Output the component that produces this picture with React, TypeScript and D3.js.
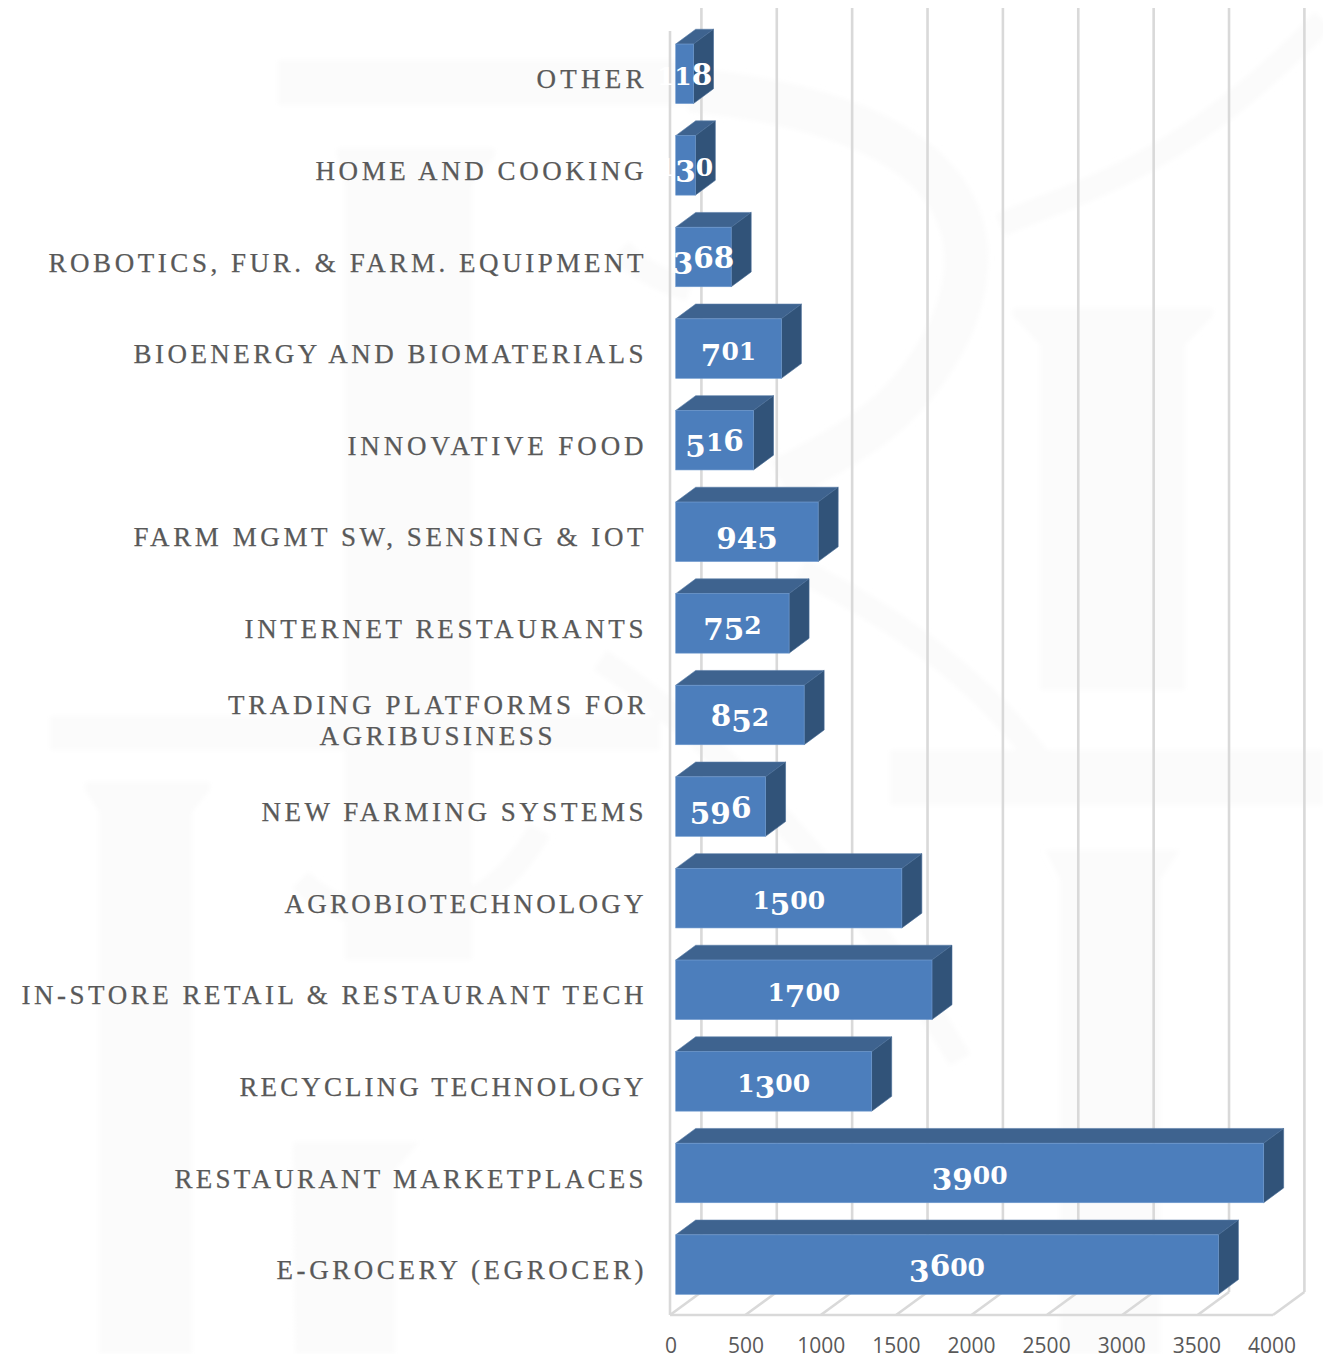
import React from "react";
import * as d3 from "d3";

const WIDTH = 1323;
const HEIGHT = 1354;

// Categories from the top of the chart downwards.
const categories = [
  "OTHER",
  "HOME AND COOKING",
  "ROBOTICS, FUR. & FARM. EQUIPMENT",
  "BIOENERGY AND BIOMATERIALS",
  "INNOVATIVE FOOD",
  "FARM MGMT SW, SENSING & IOT",
  "INTERNET RESTAURANTS",
  "TRADING PLATFORMS FOR AGRIBUSINESS",
  "NEW FARMING SYSTEMS",
  "AGROBIOTECHNOLOGY",
  "IN-STORE RETAIL & RESTAURANT TECH",
  "RECYCLING TECHNOLOGY",
  "RESTAURANT MARKETPLACES",
  "E-GROCERY (EGROCER)",
];
const values = [118, 130, 368, 701, 516, 945, 752, 852, 596, 1500, 1700, 1300, 3900, 3600];
const axisTicks = [0, 500, 1000, 1500, 2000, 2500, 3000, 3500, 4000];
const wrappedLabels: Record<string, string[]> = {
  "TRADING PLATFORMS FOR AGRIBUSINESS": ["TRADING PLATFORMS FOR", "AGRIBUSINESS"],
};
// Set width of each label line, so the wide tracking stays even across the column.
const labelSpans: Record<string, number> = {
  OTHER: 107,
  "HOME AND COOKING": 328,
  "ROBOTICS, FUR. & FARM. EQUIPMENT": 595,
  "BIOENERGY AND BIOMATERIALS": 510,
  "INNOVATIVE FOOD": 296,
  "FARM MGMT SW, SENSING & IOT": 510,
  "INTERNET RESTAURANTS": 399,
  "TRADING PLATFORMS FOR": 417,
  AGRIBUSINESS: 233,
  "NEW FARMING SYSTEMS": 382,
  AGROBIOTECHNOLOGY: 359,
  "IN-STORE RETAIL & RESTAURANT TECH": 622,
  "RECYCLING TECHNOLOGY": 404,
  "RESTAURANT MARKETPLACES": 469,
  "E-GROCERY (EGROCER)": 367,
};

// Faint backdrop emblem: columns and sweeping ribbons.
const emblemColumns = [
  "M85 782H210V790L192 812V1354H99V812L85 790Z",
  "M337 148H495V156L472 185V960H345V185L337 156Z",
  "M1013 308H1213V316L1185 345V690H1040V345L1013 316Z",
  "M1045 850H1180L1160 880V1354H1060V880Z",
  "M293 1142H420L395 1170V1354H295Z",
  "M278 60H700V105H278Z",
  "M50 716H660V750H50Z",
  "M890 750H1323V805H890Z",
];
const emblemRibbons = [
  "M690 90C900 110 1010 190 950 330C910 410 860 440 780 480",
  "M1000 225C1080 190 1180 170 1323 20",
  "M800 570C900 620 980 680 1040 760",
  "M620 250C640 270 660 280 690 290",
  "M600 660C720 740 860 890 960 1060",
  "M540 830C470 950 350 930 300 880",
];

const FRONT_LEFT = 675.7;
const UNIT_SPAN = 603;
const BAR_DEPTH_X = 20;
const BAR_DEPTH_Y = 14.8;
const FLOOR_LEFT = 670;
const FLOOR_FRONT = 1315;
const FLOOR_BACK = 1292;
const WALL_TOP = 8;
const WALL_DEPTH_X = 31.4;

const TEXT_SERIF = "'Liberation Serif', serif";
const VALUE_SERIF = "'DejaVu Serif', serif";

// Old-style figures: short digits sit on the baseline, some rise, some descend.
const DESCENDING = "34579";
const TALL = "68";

function OldStyleNumber({ x, y, value }: { x: number; y: number; value: number }) {
  const digits = String(value).split("");
  let previous = 0;
  return (
    <text x={x} y={y} textAnchor="middle" fill="#ffffff" fontFamily={VALUE_SERIF} fontWeight={700}>
      {digits.map((d, i) => {
        const shift = DESCENDING.includes(d) ? 6 : 0;
        const size = DESCENDING.includes(d) || TALL.includes(d) ? 29.5 : 25;
        const dy = shift - previous;
        previous = shift;
        return (
          <tspan key={i} dy={dy} fontSize={size}>
            {d}
          </tspan>
        );
      })}
    </text>
  );
}

export default function App() {
  const x = d3.scaleLinear().domain([0, 4000]).range([FRONT_LEFT, FRONT_LEFT + UNIT_SPAN]);
  const floorX = d3.scaleLinear().domain([0, 4000]).range([FLOOR_LEFT, FLOOR_LEFT + UNIT_SPAN]);
  const tickLabelX = d3.scaleLinear().domain([0, 4000]).range([671, 1272]);
  const y = d3
    .scaleBand<string>()
    .domain(categories)
    .range([28, 28 + 91.6 * 14])
    .paddingInner(0.3504)
    .paddingOuter(0.1752);
  const bandH = y.bandwidth();
  const cornerPath = d3.line();

  const labelStyle = {
    fontFamily: TEXT_SERIF,
    fontSize: 27,
    fill: "#595959",
    stroke: "#595959",
    strokeWidth: 0.25,
    lengthAdjust: "spacing" as const,
  };

  return (
    <svg
      width={WIDTH}
      height={HEIGHT}
      viewBox={`0 0 ${WIDTH} ${HEIGHT}`}
      style={{ position: "absolute", left: 0, top: 0, display: "block", background: "#ffffff" }}
    >
      <defs>
        <filter id="soft" x="-5%" y="-5%" width="110%" height="110%">
          <feGaussianBlur stdDeviation="2.5" />
        </filter>
      </defs>
      <g filter="url(#soft)">
        {emblemColumns.map((d, i) => (
          <path key={i} d={d} fill="#fbfbfb" />
        ))}
        {emblemRibbons.map((d, i) => (
          <path key={i} d={d} fill="none" stroke="#fbfbfb" strokeWidth={i === 0 ? 44 : 24} />
        ))}
      </g>

      <g stroke="#d9d9d9" strokeWidth={2.6} fill="none">
        <line x1={FLOOR_LEFT} x2={FLOOR_LEFT} y1={WALL_TOP + (FLOOR_FRONT - FLOOR_BACK)} y2={FLOOR_FRONT} />
        <line x1={floorX(0)} x2={floorX(4000)} y1={FLOOR_FRONT} y2={FLOOR_FRONT} />
        {axisTicks.map((t) => (
          <g key={t}>
            <line
              x1={floorX(t) + WALL_DEPTH_X}
              x2={floorX(t) + WALL_DEPTH_X}
              y1={WALL_TOP}
              y2={FLOOR_BACK}
            />
            <line x1={floorX(t)} x2={floorX(t) + WALL_DEPTH_X} y1={FLOOR_FRONT} y2={FLOOR_BACK} />
          </g>
        ))}
      </g>

      {categories.map((name, i) => {
        const top = y(name)!;
        const bottom = top + bandH;
        const left = x(0);
        const right = x(values[i]);
        const topFace = cornerPath([
          [left, top],
          [left + BAR_DEPTH_X, top - BAR_DEPTH_Y],
          [right + BAR_DEPTH_X, top - BAR_DEPTH_Y],
          [right, top],
        ])!;
        const sideFace = cornerPath([
          [right, top],
          [right + BAR_DEPTH_X, top - BAR_DEPTH_Y],
          [right + BAR_DEPTH_X, bottom - BAR_DEPTH_Y],
          [right, bottom],
        ])!;
        return (
          <g key={name}>
            <path d={topFace + "Z"} fill="#3e638f" stroke="#5b7ea8" strokeWidth={0.6} />
            <path d={sideFace + "Z"} fill="#315379" stroke="#456a96" strokeWidth={0.6} />
            <rect x={left} y={top} width={right - left} height={bandH} fill="#4c7ebc" stroke="#6f9bd0" strokeWidth={0.6} />
          </g>
        );
      })}

      {categories.map((name) => {
        const centre = y(name)! + bandH / 2;
        const lines = wrappedLabels[name];
        if (lines) {
          return (
            <g key={name}>
              <text x={645} y={centre - 1.5} textAnchor="end" textLength={labelSpans[lines[0]]} {...labelStyle}>
                {lines[0]}
              </text>
              <text x={436} y={centre + 30} textAnchor="middle" textLength={labelSpans[lines[1]]} {...labelStyle}>
                {lines[1]}
              </text>
            </g>
          );
        }
        return (
          <text key={name} x={643.5} y={centre + 14.5} textAnchor="end" textLength={labelSpans[name]} {...labelStyle}>
            {name}
          </text>
        );
      })}

      {categories.map((name, i) => (
        <OldStyleNumber
          key={name}
          x={(x(0) + x(values[i])) / 2}
          y={y(name)! + bandH / 2 + 11}
          value={values[i]}
        />
      ))}

      {axisTicks.map((t) => (
        <text
          key={t}
          x={tickLabelX(t)}
          y={1353}
          textAnchor="middle"
          fill="#595959"
          fontFamily="'Open Sans', sans-serif"
          fontSize={21}
        >
          {t}
        </text>
      ))}
    </svg>
  );
}
